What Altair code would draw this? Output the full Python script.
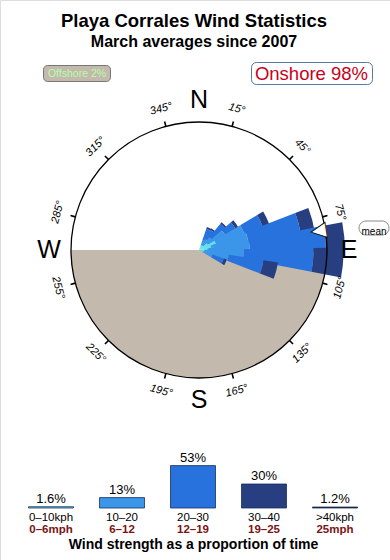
import math
import altair as alt
import pandas as pd

FONT = "Liberation Sans"
W, H = 390, 560
CX, CY, R = 199, 250, 128

# ---------------- data ----------------
title = "Playa Corrales Wind Statistics"
subtitle = "March averages since 2007"
offshore_text = "Offshore 2%"
onshore_text = "Onshore 98%"
bottom_title = "Wind strength as a proportion of time"

compass_letters = ["N", "E", "S", "W"]
compass_deg = [0, 90, 180, 270]
degree_ticks = [15, 45, 75, 105, 135, 165, 195, 225, 255, 285, 315, 345]

classes = ["0–10", "10–20", "20–30", "30–40", ">40"]
class_colors = ["#5fe0ea", "#3b95e8", "#2872de", "#273f80", "#1c1c1c"]

# wind rose: direction bins (start, degrees) and % of time per speed class
dir_start = [20, 30, 40, 50, 60, 70, 80, 90, 100, 110]
pct_0_10 = [0.8, 0.8, 0.9, 1.6, 2.8, 1.9, 1.3, 0.9, 0.8, 0.6]
pct_10_20 = [0.8, 1.1, 1.6, 3.1, 4.7, 5.9, 6.6, 6.1, 3.9, 1.6]
pct_20_30 = [1.9, 1.7, 2.8, 1.9, 3.1, 8.3, 11.9, 10.9, 5.5, 1.9]
pct_30_40 = [0.3, 0.3, 0.3, 0.5, 1.1, 2.2, 3.0, 4.7, 2.3, 0.5]
mean_dir = [81]

# strength histogram
kph_labels = ["0–10kph", "10–20", "20–30", "30–40", ">40kph"]
mph_labels = ["0–6mph", "6–12", "12–19", "19–25", "25mph"]
strength_pct = [1.6, 13, 53, 30, 1.2]
strength_text = ["1.6%", "13%", "53%", "30%", "1.2%"]

# ---------------- tables ----------------
rows = []
for i, d in enumerate(dir_start):
    cum = 0.0
    for cls, arr in zip(classes[:4], [pct_0_10, pct_10_20, pct_20_30, pct_30_40]):
        v = arr[i]
        rows.append(dict(d0=d - 1, d1=d + 11, r0=cum, r1=cum + v, cls=cls))
        cum += v
rose_df = pd.DataFrame(rows)

tick_df = pd.DataFrame({"deg": degree_ticks})
tick_df["t0"] = tick_df["deg"] - 0.35
tick_df["t1"] = tick_df["deg"] + 0.35
tick_df["txt"] = [f"{d}°" for d in degree_ticks]
tick_df["rot"] = [
    (d if d <= 90 else (d - 180 if d < 270 else d - 360)) % 360 for d in degree_ticks
]

letters_df = pd.DataFrame({"deg": compass_deg, "txt": compass_letters})
mean_df = pd.DataFrame({"deg": mean_dir})
bar_df = pd.DataFrame(
    {"cls": classes, "pct": strength_pct, "txt": strength_text, "kph": kph_labels, "mph": mph_labels}
)
one = pd.DataFrame({"k": [0]})

theta_scale = alt.Scale(domain=[0, 360], range=[0, 2 * math.pi])
color_scale = alt.Scale(domain=classes, range=class_colors)
cx, cy = alt.value(CX), alt.value(CY)

# ---------------- rose ----------------
beige = alt.Chart(one).mark_arc(
    theta=math.pi / 2, theta2=3 * math.pi / 2, radius=R, color="#c4b9ad"
).encode(x=cx, y=cy)

petals = alt.Chart(rose_df).mark_arc().encode(
    x=cx,
    y=cy,
    theta=alt.Theta("d0:Q", scale=theta_scale),
    theta2="d1:Q",
    radius=alt.Radius("r1:Q", scale=alt.Scale(type="linear", domain=[0, 20], range=[0, R], zero=True)),
    radius2="r0:Q",
    color=alt.Color("cls:N", scale=color_scale, legend=None),
)

ticks = alt.Chart(tick_df).mark_arc(radius=R + 5, radius2=R, color="black").encode(
    x=cx, y=cy, theta=alt.Theta("t0:Q", scale=theta_scale), theta2="t1:Q"
)

circle = alt.Chart(one).mark_arc(
    theta=0, theta2=2 * math.pi + 0.001, radius=R, fillOpacity=0, stroke="black", strokeWidth=1.3
).encode(x=cx, y=cy)

arrow = alt.Chart(mean_df).mark_text(
    radius=R - 6, font="DejaVu Sans", fontSize=20, fill="white", stroke="black",
    strokeWidth=0.8, baseline="middle", align="center",
).encode(
    x=cx, y=cy,
    theta=alt.Theta("deg:Q", scale=theta_scale),
    angle=alt.Angle("deg:Q", scale=None),
    text=alt.value("▼"),
)

deg_labels = alt.Chart(tick_df).mark_text(
    radius=R + 18, font=FONT, fontSize=11, fontStyle="italic", color="black",
    baseline="middle", align="center",
).encode(
    x=cx, y=cy,
    theta=alt.Theta("deg:Q", scale=theta_scale),
    angle=alt.Angle("rot:Q", scale=None),
    text="txt:N",
)

letters = alt.Chart(letters_df).mark_text(
    radius=R + 22, font=FONT, fontSize=25, color="black", baseline="middle", align="center"
).encode(x=cx, y=cy, theta=alt.Theta("deg:Q", scale=theta_scale), text="txt:N")

mean_box = alt.Chart(one).mark_rect(
    fill="white", stroke="#888888", strokeWidth=1, cornerRadius=7
).encode(x=alt.value(359), x2=alt.value(389), y=alt.value(221), y2=alt.value(235))
mean_txt = alt.Chart(one).mark_text(font=FONT, fontSize=10, color="black").encode(
    x=alt.value(374), y=alt.value(231.5), text=alt.value("mean")
)

# ---------------- header ----------------
t1 = alt.Chart(one).mark_text(font=FONT, fontSize=18.5, fontWeight="bold", color="black", baseline="alphabetic").encode(
    x=alt.value(194), y=alt.value(27), text=alt.value(title)
)
t2 = alt.Chart(one).mark_text(font=FONT, fontSize=16, fontWeight="bold", color="black", baseline="alphabetic").encode(
    x=alt.value(194), y=alt.value(47), text=alt.value(subtitle)
)

off_box = alt.Chart(one).mark_rect(fill="#c4b9ad", stroke="#777777", strokeWidth=1, cornerRadius=4).encode(
    x=alt.value(43.5), x2=alt.value(110.5), y=alt.value(65.5), y2=alt.value(81.5)
)
off_txt = alt.Chart(one).mark_text(font=FONT, fontSize=10.5, color="#b4ffa8", baseline="alphabetic").encode(
    x=alt.value(77), y=alt.value(77), text=alt.value(offshore_text)
)
on_box = alt.Chart(one).mark_rect(fill="white", stroke="#5878a8", strokeWidth=1, cornerRadius=5).encode(
    x=alt.value(251.5), x2=alt.value(372.5), y=alt.value(62.5), y2=alt.value(84.5)
)
on_txt = alt.Chart(one).mark_text(font=FONT, fontSize=18.5, color="#c8001a", baseline="alphabetic").encode(
    x=alt.value(311.5), y=alt.value(80), text=alt.value(onshore_text)
)

# ---------------- strength bars ----------------
xs = alt.X(
    "cls:N", sort=classes, axis=None,
    scale=alt.Scale(domain=classes, range=[15.5, 370.5], paddingInner=0.366, paddingOuter=0.183),
)
ys = alt.Y("pct:Q", axis=None, scale=alt.Scale(domain=[0, 100], range=[508, 428]))

bars = alt.Chart(bar_df).mark_bar(stroke="#1d2f5a", strokeWidth=0.8).encode(
    x=xs, y=ys, color=alt.Color("cls:N", scale=color_scale, legend=None)
)
bar_vals = alt.Chart(bar_df).mark_text(font=FONT, fontSize=13, dy=-4, baseline="alphabetic", color="black").encode(
    x=xs, y=ys, text="txt:N"
)
kph = alt.Chart(bar_df).mark_text(font=FONT, fontSize=11.5, baseline="alphabetic", color="black").encode(
    x=xs, y=alt.value(520.5), text="kph:N"
)
mph = alt.Chart(bar_df).mark_text(font=FONT, fontSize=11.5, fontWeight="bold", baseline="alphabetic", color="#7a1414").encode(
    x=xs, y=alt.value(532.5), text="mph:N"
)
bt = alt.Chart(one).mark_text(font=FONT, fontSize=14, fontWeight="bold", baseline="alphabetic", color="black").encode(
    x=alt.value(193.5), y=alt.value(549), text=alt.value(bottom_title)
)

chart = (
    alt.layer(
        beige, petals, ticks, circle, arrow, deg_labels, letters, mean_box, mean_txt,
        t1, t2, off_box, off_txt, on_box, on_txt,
        bars, bar_vals, kph, mph, bt,
    )
    .properties(width=W, height=H, padding=0, autosize=alt.AutoSizeParams(type="none"))
    .configure_view(strokeWidth=0)
    .configure(background="white")
)

chart.save("out.html", embed_options={"renderer": "svg", "actions": False})
